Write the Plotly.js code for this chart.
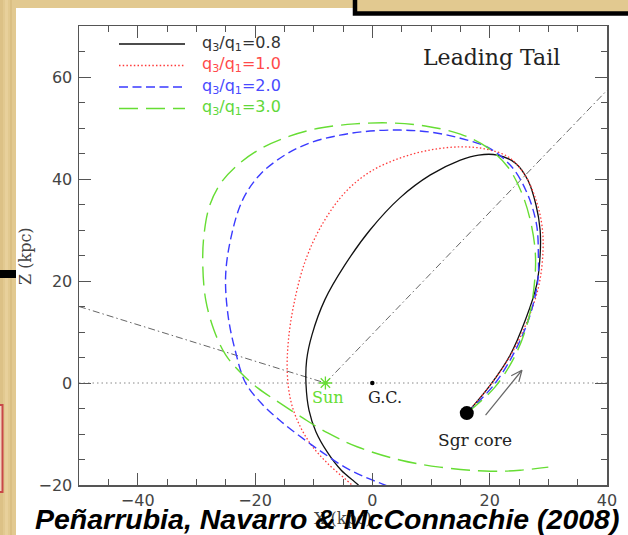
<!DOCTYPE html>
<html>
<head>
<meta charset="utf-8">
<script src="https://cdn.plot.ly/plotly-3.0.1.min.js"></script>
<style>
  html, body { margin: 0; padding: 0; background: #e2c990; }
  #chart { width: 628px; height: 535px; }
</style>
</head>
<body>
<div id="chart"></div>
<script>
// Sgr leading tail in the X-Z plane (kpc) for four halo shapes q3/q1
const ratios = ['0.8', '1.0', '2.0', '3.0'];

const x08 = [16.2, 20.1, 23.5, 26.1, 28.0, 28.6, 28.6, 27.9, 26.5, 24.4, 21.3, 18.1, 15.0, 9.9, 4.7, -0.4, -4.7, -8.1, -10.3, -11.2, -11.3, -10.8, -9.6, -7.7, -5.3, -2.4, -1.8];
const z08 = [-5.8, -0.4, 5.5, 12.4, 19.2, 25.1, 30.0, 34.9, 39.8, 43.1, 44.7, 44.7, 43.7, 40.8, 36.3, 30.0, 23.1, 16.3, 9.4, 4.5, -0.4, -5.3, -9.6, -13.5, -17.1, -20.0, -21.0];

const x10 = [16.2, 20.4, 23.9, 26.6, 28.4, 29.1, 28.9, 27.9, 26.0, 23.2, 19.2, 15.0, 9.9, 4.7, -0.4, -4.7, -8.6, -11.5, -13.4, -14.3, -14.5, -13.9, -12.6, -10.5, -7.6, -3.5, -2.8];
const z10 = [-5.8, 0.0, 6.1, 12.7, 19.2, 26.1, 31.0, 35.9, 40.8, 44.3, 45.9, 46.3, 45.7, 44.1, 41.4, 37.3, 31.0, 23.7, 15.3, 8.4, 2.0, -3.5, -7.8, -12.0, -15.8, -20.0, -21.0];

const x20 = [16.2, 20.7, 24.2, 26.8, 28.2, 28.3, 28.0, 26.5, 23.9, 20.0, 15.0, 9.9, 4.7, -0.4, -5.5, -10.6, -14.9, -19.2, -22.1, -24.0, -25.0, -24.6, -23.4, -21.6, -18.8, -15.8, -12.4, -8.4, -4.7, -1.3, 2.6];
const z20 = [-5.8, -0.4, 6.0, 13.0, 20.0, 25.0, 31.0, 36.9, 42.2, 46.0, 48.0, 49.2, 49.6, 49.4, 48.6, 47.1, 44.7, 40.8, 35.9, 29.0, 21.2, 13.3, 6.5, 0.0, -4.1, -7.3, -10.4, -13.7, -16.5, -18.4, -20.2];

const x30 = [16.2, 20.9, 24.4, 26.6, 27.6, 27.8, 27.1, 25.6, 23.2, 19.7, 15.0, 9.0, 3.0, -3.0, -8.9, -14.1, -18.8, -22.6, -25.7, -27.7, -28.7, -28.9, -28.4, -27.0, -25.0, -22.6, -19.5, -15.8, -11.8, -7.6, -2.6, 4.7, 11.5, 20.1, 25.2, 30.0];
const z30 = [-5.8, -0.8, 5.5, 12.4, 19.2, 25.1, 31.0, 36.9, 42.2, 46.1, 48.8, 50.4, 51.0, 50.8, 50.0, 48.4, 46.1, 43.1, 39.4, 34.9, 29.0, 23.1, 16.3, 10.4, 5.5, 2.2, -1.0, -3.9, -6.9, -9.8, -12.5, -15.1, -16.5, -17.3, -17.1, -16.5];

// reference points
const sunX = [-8], sunZ = [0];
const gcX = [0], gcZ = [0];
const sgrX = [16.1], sgrZ = [-5.9];

// lines of sight through the Sun and the Z = 0 plane
const losLeftX = [-50, -8], losLeftZ = [15, 0];
const losRightX = [-8, 40], losRightZ = [0, 57.4];
const planeX = [-50, 40], planeZ = [0, 0];

// direction of motion of the core
const motionX = [19.3, 25.5], motionZ = [-6.3, 2.5];

const xTickVals = [-40, -20, 0, 20, 40];
const zTickVals = [-20, 0, 20, 40, 60];

// ---- geometry of the plot area (pixels) ----
const W = 628, H = 535;
const M = { l: 79, r: 21, t: 26, b: 50 };
const PW = W - M.l - M.r, PH = H - M.t - M.b;
const xRange = [-50, 40], zRange = [-20, 70];
const pxPerX = PW / (xRange[1] - xRange[0]);
const pxPerZ = PH / (zRange[1] - zRange[0]);
const px = (p) => (p - M.l) / PW;          // page x -> paper x
const py = (p) => (M.t + PH - p) / PH;     // page y -> paper y

const colBlack = '#111111', colRed = '#ff3a3a', colBlue = '#3a3aff', colGreen = '#66dd33';
const styles = [
  { color: colBlack, dash: 'solid', width: 1.3, text: '#333333' },
  { color: colRed, dash: '1.5px,2.2px', width: 1.3, text: '#ff4a4a' },
  { color: colBlue, dash: '9px,4.5px', width: 1.4, text: '#4a4aff' },
  { color: colGreen, dash: '19px,8px', width: 1.4, text: '#5fd83a' }
];
const series = [[x08, z08], [x10, z10], [x20, z20], [x30, z30]];

const traces = [];
const grey = '#666666';
traces.push({ x: planeX, y: planeZ, mode: 'lines', line: { color: '#888888', width: 1, dash: '1.5px,3px' }, hoverinfo: 'skip' });
traces.push({ x: losLeftX, y: losLeftZ, mode: 'lines', line: { color: grey, width: 1, dash: '7px,3px,1.5px,3px' }, hoverinfo: 'skip' });
traces.push({ x: losRightX, y: losRightZ, mode: 'lines', line: { color: grey, width: 1, dash: '7px,3px,1.5px,3px' }, hoverinfo: 'skip' });

series.forEach((s, i) => {
  traces.push({
    x: s[0], y: s[1], mode: 'lines',
    line: { color: styles[i].color, width: styles[i].width, dash: styles[i].dash, shape: 'spline', smoothing: 1 },
    name: 'q3/q1=' + ratios[i]
  });
});

// motion arrow: shaft plus an open V head built in pixel space
(function () {
  const dx = (motionX[1] - motionX[0]) * pxPerX;
  const dz = (motionZ[1] - motionZ[0]) * pxPerZ;
  const len = Math.hypot(dx, dz);
  const ux = dx / len, uz = dz / len;
  const head = 12, ang = 24 * Math.PI / 180;
  const arm = (s) => {
    const c = Math.cos(s * ang), sn = Math.sin(s * ang);
    const rx = -(ux * c - uz * sn), rz = -(ux * sn + uz * c);
    return [motionX[1] + rx * head / pxPerX, motionZ[1] + rz * head / pxPerZ];
  };
  const a1 = arm(1), a2 = arm(-1);
  traces.push({ x: motionX, y: motionZ, mode: 'lines', line: { color: grey, width: 1.2 }, hoverinfo: 'skip' });
  traces.push({ x: [a1[0], motionX[1], a2[0]], y: [a1[1], motionZ[1], a2[1]], mode: 'lines', line: { color: grey, width: 1.2 }, hoverinfo: 'skip' });
})();

traces.push({ x: sunX, y: sunZ, mode: 'markers', marker: { symbol: 'asterisk-open', size: 11, color: colGreen, line: { color: colGreen, width: 1.3 } } });
traces.push({ x: gcX, y: gcZ, mode: 'markers', marker: { symbol: 'circle', size: 4.5, color: '#000' } });
traces.push({ x: sgrX, y: sgrZ, mode: 'markers', marker: { symbol: 'circle', size: 14, color: '#000' } });

const axisCommon = {
  ticks: 'inside', ticklen: 12, tickwidth: 1, tickcolor: '#555',
  showline: true, linecolor: '#555', linewidth: 1.5, mirror: 'allticks',
  showgrid: false, zeroline: false, tickmode: 'array',
  tickfont: { family: 'DejaVu Sans', size: 16, color: '#444' },
  minor: { dtick: 5, ticks: 'inside', ticklen: 6, tickwidth: 1, tickcolor: '#555', showgrid: false }
};

const shapes = [];
// white page on the parchment
shapes.push({ type: 'rect', xref: 'paper', yref: 'paper', layer: 'below',
  x0: px(16), x1: px(640), y0: py(8), y1: py(545), fillcolor: '#ffffff', line: { width: 0 } });
// parchment streaks
[[0, 3, '#d9bd80'], [5, 8, '#ecd6a4'], [10, 12, '#d6b97c']].forEach(s => {
  shapes.push({ type: 'rect', xref: 'paper', yref: 'paper', layer: 'below',
    x0: px(s[0]), x1: px(s[1]), y0: py(0), y1: py(535), fillcolor: s[2], opacity: 0.6, line: { width: 0 } });
});
// framed box at the top edge, parchment inside
shapes.push({ type: 'rect', xref: 'paper', yref: 'paper', layer: 'below',
  x0: px(355), x1: px(640), y0: py(-2), y1: py(13), fillcolor: '#e2c990', line: { width: 0 } });
shapes.push({ type: 'path', xref: 'paper', yref: 'paper', layer: 'below',
  path: `M ${px(355)} ${py(-2)} L ${px(355)} ${py(13.5)} L ${px(640)} ${py(13.5)}`,
  line: { color: '#000', width: 4.5 } });
// black bar and red box on the left edge
shapes.push({ type: 'rect', xref: 'paper', yref: 'paper', layer: 'below',
  x0: px(-2), x1: px(16), y0: py(270), y1: py(278), fillcolor: '#000', line: { width: 0 } });
shapes.push({ type: 'rect', xref: 'paper', yref: 'paper', layer: 'below',
  x0: px(-10), x1: px(2.5), y0: py(405), y1: py(492), fillcolor: '#f0d6c0', line: { color: '#c84848', width: 2 } });

// legend samples
const rowY = [44, 65.5, 87, 108.5];
styles.forEach((s, i) => {
  shapes.push({ type: 'line', xref: 'paper', yref: 'paper', layer: 'above',
    x0: px(119), x1: px(185), y0: py(rowY[i]), y1: py(rowY[i]),
    line: { color: s.color, width: s.width, dash: s.dash } });
});

const serif = 'DejaVu Serif';
const annotations = [];
ratios.forEach((r, i) => {
  annotations.push({ xref: 'paper', yref: 'paper', x: px(200), y: py(rowY[i] - 1), xanchor: 'left', yanchor: 'middle',
    text: 'q<sub>3</sub>/q<sub>1</sub>=' + r, showarrow: false,
    font: { family: 'DejaVu Sans', size: 16, color: styles[i].text } });
});
annotations.push({ x: 20.3, y: 63.9, xref: 'x', yref: 'y', xanchor: 'center', yanchor: 'middle', text: 'Leading Tail', showarrow: false,
  font: { family: serif, size: 22, color: '#222' } });
annotations.push({ x: -7.6, y: -2.9, xref: 'x', yref: 'y', xanchor: 'center', yanchor: 'middle', text: 'Sun', showarrow: false,
  font: { family: serif, size: 16, color: colGreen } });
annotations.push({ x: 2.2, y: -2.9, xref: 'x', yref: 'y', xanchor: 'center', yanchor: 'middle', text: 'G.C.', showarrow: false,
  font: { family: serif, size: 16, color: '#222' } });
annotations.push({ x: 17.5, y: -11.2, xref: 'x', yref: 'y', xanchor: 'center', yanchor: 'middle', text: 'Sgr core', showarrow: false,
  font: { family: serif, size: 17, color: '#222' } });
// axis titles
annotations.push({ xref: 'paper', yref: 'paper', x: px(25), y: py(256), xanchor: 'center', yanchor: 'middle', textangle: -90,
  text: 'Z (kpc)', showarrow: false, font: { family: serif, size: 16, color: '#444' } });
annotations.push({ xref: 'paper', yref: 'paper', x: px(343), y: py(518), xanchor: 'center', yanchor: 'middle',
  text: 'X (kpc)', showarrow: false, font: { family: serif, size: 16, color: '#444' } });
// citation
annotations.push({ xref: 'paper', yref: 'paper', x: px(327), y: py(519), xanchor: 'center', yanchor: 'middle',
  text: 'Peñarrubia, Navarro & McConnachie (2008)', showarrow: false,
  font: { family: 'Liberation Sans, Arial', size: 28.5, color: '#000', weight: 700, style: 'italic' } });

const layout = {
  width: W, height: H, margin: M,
  paper_bgcolor: '#e2c990', plot_bgcolor: '#ffffff',
  showlegend: false,
  xaxis: Object.assign({}, axisCommon, { range: xRange, tickvals: xTickVals, ticklabelstandoff: 0 }),
  yaxis: Object.assign({}, axisCommon, { range: zRange, tickvals: zTickVals, ticklabelstandoff: 2 }),
  shapes: shapes, annotations: annotations
};

Plotly.newPlot('chart', traces, layout, { displayModeBar: false, staticPlot: true });
</script>
</body>
</html>
